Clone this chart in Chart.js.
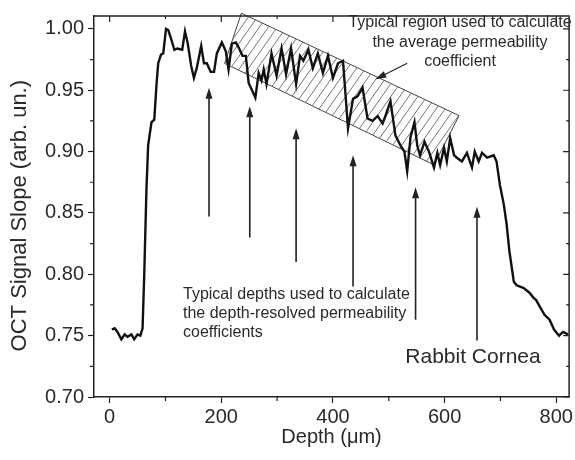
<!DOCTYPE html>
<html>
<head>
<meta charset="utf-8">
<script src="https://cdn.jsdelivr.net/npm/chart.js@4.4.1/dist/chart.umd.min.js"></script>
<style>
  html, body { margin: 0; padding: 0; background: #fff; }
  #wrap { width: 575px; height: 460px; }
</style>
</head>
<body>
<div id="wrap"><canvas id="grafica" width="575" height="460"></canvas></div>
<script>
// depth (um) and signal slope
const depthX = [4, 9, 14, 21, 27, 32, 39, 44, 50, 55, 59, 62, 66, 69, 75, 80, 84, 87, 92, 96,
  101, 105, 110, 116, 121, 130, 135, 140, 146, 151, 156, 164, 169, 174, 181, 187, 192, 201, 208, 213,
  219, 226, 231, 238, 244, 249, 254, 261, 267, 272, 276, 281, 290, 299, 308, 316, 325, 334, 341, 347,
  356, 364, 373, 382, 391, 400, 409, 418, 427, 436, 444, 453, 462, 471, 480, 489, 494, 503, 512, 521,
  528, 533, 539, 546, 551, 556, 564, 572, 581, 587, 592, 599, 604, 610, 617, 622, 631, 640, 649, 654,
  661, 667, 676, 688, 693, 699, 706, 711, 716, 724, 729, 741, 752, 759, 764, 770, 779, 788, 796, 805,
  812, 821];
const slopeY = [0.755, 0.756, 0.753, 0.747, 0.751, 0.749, 0.751, 0.747, 0.751, 0.750, 0.756, 0.800, 0.870, 0.905, 0.924, 0.926, 0.955, 0.972, 0.979, 0.980,
  1.000, 0.999, 0.992, 0.983, 0.984, 0.983, 0.998, 0.988, 0.970, 0.960, 0.968, 0.986, 0.972, 0.972, 0.965, 0.965, 0.980, 0.989, 0.982, 0.967,
  0.988, 0.989, 0.985, 0.978, 0.978, 0.956, 0.951, 0.944, 0.964, 0.958, 0.967, 0.955, 0.980, 0.962, 0.984, 0.963, 0.984, 0.955, 0.978, 0.974,
  0.983, 0.968, 0.980, 0.964, 0.978, 0.960, 0.972, 0.974, 0.919, 0.943, 0.945, 0.952, 0.927, 0.925, 0.929, 0.923, 0.929, 0.941, 0.913, 0.905,
  0.900, 0.884, 0.912, 0.924, 0.905, 0.897, 0.908, 0.900, 0.887, 0.899, 0.889, 0.903, 0.892, 0.911, 0.897, 0.895, 0.892, 0.899, 0.887, 0.900,
  0.892, 0.899, 0.895, 0.897, 0.892, 0.873, 0.857, 0.841, 0.819, 0.794, 0.791, 0.789, 0.785, 0.781, 0.779, 0.774, 0.767, 0.763, 0.755, 0.750,
  0.753, 0.751];

const xTicks = [0, 200, 400, 600, 800];
const xMinor = [100, 300, 500, 700];
const yTicks = [0.70, 0.75, 0.80, 0.85, 0.90, 0.95, 1.00];
const yMinor = [0.725, 0.775, 0.825, 0.875, 0.925, 0.975];

// hatched region corners (depth, slope)
const regionX = [236, 626, 581, 206];
const regionY = [1.0128, 0.9293, 0.8892, 0.9719];

// vertical arrows: depth, tip and tail
const arrowX = [178, 251, 334, 436, 548, 658];
const arrowTop = [0.952, 0.937, 0.919, 0.897, 0.871, 0.855];
const arrowBottom = [0.847, 0.830, 0.810, 0.790, 0.763, 0.746];

const FONT = '"Liberation Sans", Arial, sans-serif';
const INK = '#222';
const TXT = '#2a2a2a';

function arrowHead(ctx, x, y, dx, dy) {
  var len = Math.sqrt(dx * dx + dy * dy);
  var ux = dx / len, uy = dy / len;
  var bx = x - ux * 11, by = y - uy * 11;
  ctx.beginPath();
  ctx.moveTo(x, y);
  ctx.lineTo(bx - uy * 3.5, by + ux * 3.5);
  ctx.lineTo(bx + uy * 3.5, by - ux * 3.5);
  ctx.closePath();
  ctx.fill();
}

const extras = {
  id: 'extras',
  beforeDatasetsDraw(chart) {
    const ctx = chart.ctx, sx = chart.scales.x, sy = chart.scales.y;
    var pts = regionX.map(function (v, i) { return [sx.getPixelForValue(v), sy.getPixelForValue(regionY[i])]; });
    ctx.save();
    ctx.beginPath();
    pts.forEach(function (p, i) { i ? ctx.lineTo(p[0], p[1]) : ctx.moveTo(p[0], p[1]); });
    ctx.closePath();
    ctx.strokeStyle = '#444';
    ctx.lineWidth = 1;
    ctx.stroke();
    ctx.clip();
    ctx.strokeStyle = '#666';
    ctx.lineWidth = 0.9;
    var top = Math.min.apply(null, pts.map(p => p[1])), bot = Math.max.apply(null, pts.map(p => p[1]));
    var left = Math.min.apply(null, pts.map(p => p[0])), right = Math.max.apply(null, pts.map(p => p[0]));
    var h = bot - top;
    for (var x = left - h; x < right; x += 9) {
      ctx.beginPath();
      ctx.moveTo(x, bot);
      ctx.lineTo(x + h * 0.7, top);
      ctx.stroke();
    }
    ctx.restore();
  },
  afterDraw(chart) {
    const ctx = chart.ctx, a = chart.chartArea, sx = chart.scales.x, sy = chart.scales.y;
    ctx.save();
    ctx.strokeStyle = INK;
    ctx.lineWidth = 1.5;
    ctx.beginPath();
    ctx.moveTo(a.left, a.top); ctx.lineTo(a.right, a.top); ctx.lineTo(a.right, a.bottom);
    ctx.stroke();

    // ticks: minor outside on bottom/left, mirrored inside on top/right
    ctx.lineWidth = 1.2;
    ctx.beginPath();
    xMinor.forEach(function (v) {
      var px = sx.getPixelForValue(v);
      ctx.moveTo(px, a.bottom); ctx.lineTo(px, a.bottom + 4);
      ctx.moveTo(px, a.top); ctx.lineTo(px, a.top + 3);
    });
    xTicks.forEach(function (v) {
      var px = sx.getPixelForValue(v);
      ctx.moveTo(px, a.top); ctx.lineTo(px, a.top + 6);
    });
    yMinor.forEach(function (v) {
      var py = sy.getPixelForValue(v);
      ctx.moveTo(a.left, py); ctx.lineTo(a.left - 4, py);
      ctx.moveTo(a.right, py); ctx.lineTo(a.right - 3, py);
    });
    yTicks.forEach(function (v) {
      var py = sy.getPixelForValue(v);
      ctx.moveTo(a.right, py); ctx.lineTo(a.right - 6, py);
    });
    ctx.stroke();

    // arrows
    ctx.fillStyle = INK;
    ctx.lineWidth = 1.6;
    arrowX.forEach(function (v, i) {
      var px = sx.getPixelForValue(v);
      var t = sy.getPixelForValue(arrowTop[i]), b = sy.getPixelForValue(arrowBottom[i]);
      ctx.beginPath();
      ctx.moveTo(px, b); ctx.lineTo(px, t + 6);
      ctx.stroke();
      arrowHead(ctx, px, t, 0, -1);
    });
    var x1 = sx.getPixelForValue(533), y1 = sy.getPixelForValue(0.972);
    var x2 = sx.getPixelForValue(476), y2 = sy.getPixelForValue(0.959);
    ctx.lineWidth = 1.2;
    ctx.beginPath(); ctx.moveTo(x1, y1); ctx.lineTo(x2 + 5, y2 - 2.5); ctx.stroke();
    arrowHead(ctx, x2, y2, x2 - x1, y2 - y1);

    // labels
    ctx.fillStyle = TXT;
    ctx.textBaseline = 'middle';
    ctx.font = '16px ' + FONT;
    ctx.textAlign = 'center';
    ctx.fillText('Typical region used to calculate', 460, 23);
    ctx.fillText('the average permeability', 460, 43);
    ctx.fillText('coefficient', 460, 62);
    ctx.textAlign = 'left';
    ctx.fillText('Typical depths used to calculate', 183, 295);
    ctx.fillText('the depth-resolved permeability', 183, 314);
    ctx.fillText('coefficients', 183, 333);
    ctx.font = '21px ' + FONT;
    ctx.textAlign = 'center';
    ctx.fillText('Rabbit Cornea', 473, 357);
    ctx.restore();
  }
};

new Chart(document.getElementById('grafica'), {
  type: 'line',
  data: {
    datasets: [{
      data: depthX.map(function (d, i) { return { x: d, y: slopeY[i] }; }),
      borderColor: '#111',
      borderWidth: 2.4,
      pointRadius: 0,
      tension: 0,
      fill: false
    }]
  },
  options: {
    responsive: false,
    animation: false,
    layout: { padding: { top: 9, right: 2, left: 0, bottom: 0 } },
    plugins: { legend: { display: false }, tooltip: { enabled: false } },
    scales: {
      x: {
        type: 'linear', min: -28, max: 823,
        afterBuildTicks: function (s) { s.ticks = xTicks.map(v => ({ value: v })); },
        afterFit: function (s) { s.height = 63; },
        border: { color: INK, width: 1.5 },
        grid: { drawOnChartArea: false, tickLength: 6, tickWidth: 1.2, tickColor: INK },
        ticks: { color: TXT, font: { family: FONT, size: 20 }, padding: 2, maxRotation: 0 },
        title: { display: true, text: 'Depth (\u03bcm)', color: TXT, font: { family: FONT, size: 20 }, padding: { bottom: 11 } }
      },
      y: {
        type: 'linear', min: 0.70, max: 1.0105,
        afterBuildTicks: function (s) { s.ticks = yTicks.map(v => ({ value: v })); },
        afterFit: function (s) { s.width = 94; },
        border: { color: INK, width: 1.5 },
        grid: { drawOnChartArea: false, tickLength: 6, tickWidth: 1.2, tickColor: INK },
        ticks: { color: TXT, font: { family: FONT, size: 20 }, padding: 4, callback: v => v.toFixed(2) },
        // trailing spaces nudge the centred title a little lower, like the original
        title: { display: true, text: 'OCT Signal Slope (arb. un.)   ', color: TXT, font: { family: FONT, size: 22 }, padding: { top: 7 } }
      }
    }
  },
  plugins: [extras]
});
</script>
</body>
</html>
